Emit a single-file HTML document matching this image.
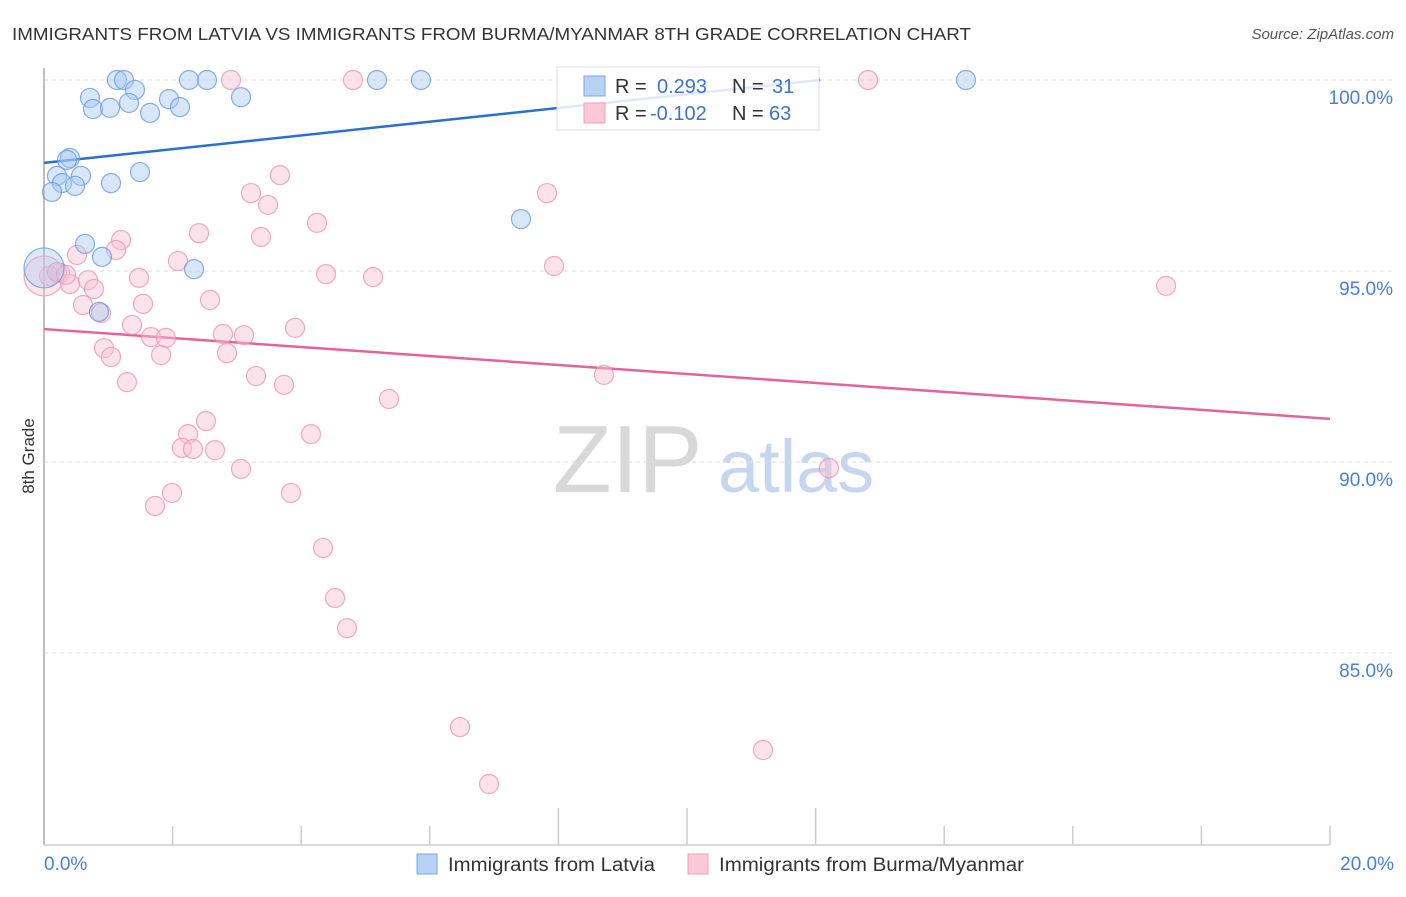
<!DOCTYPE html>
<html><head><meta charset="utf-8"><style>
body{margin:0;background:#fff;font-family:"Liberation Sans",sans-serif}
svg text{font-family:"Liberation Sans",sans-serif}
</style></head><body>
<svg id="chart" width="1406" height="892" viewBox="0 0 1406 892" xmlns="http://www.w3.org/2000/svg">
<text x="12" y="40" font-size="17.5" fill="#333" textLength="959" lengthAdjust="spacingAndGlyphs">IMMIGRANTS FROM LATVIA VS IMMIGRANTS FROM BURMA/MYANMAR 8TH GRADE CORRELATION CHART</text>
<text x="1394" y="39" font-size="15" fill="#555" font-style="italic" text-anchor="end">Source: ZipAtlas.com</text>
<text transform="translate(34,456) rotate(-90)" font-size="17" fill="#333" text-anchor="middle">8th Grade</text>
<g>
<text x="553" y="492" font-size="96" fill="#d8d8d8" font-family="Liberation Serif">ZIP</text>
<text x="718" y="492" font-size="74" fill="#c5d6ee">atlas</text>
</g>
<g id="grid"></g>
<g id="axes"></g>
<g id="lines"></g>
<g id="pts"></g>
<g>
<rect x="557" y="67" width="262" height="63" fill="#fff" fill-opacity="0.85" stroke="#ddd"/>
<rect x="584" y="76" width="21" height="20" fill="#b8d2f5" stroke="#7aa6e3"/>
<rect x="584" y="103" width="21" height="20" fill="#fcc7d6" stroke="#eda0b7"/>
<text x="615" y="93" font-size="20" fill="#333">R =</text>
<text x="657" y="93" font-size="20" fill="#3b73cf">0.293</text>
<text x="732" y="93" font-size="20" fill="#333">N =</text>
<text x="772" y="93" font-size="20" fill="#3b73cf">31</text>
<text x="615" y="120" font-size="20" fill="#333">R =</text>
<text x="650" y="120" font-size="20" fill="#3b73cf">-0.102</text>
<text x="732" y="120" font-size="20" fill="#333">N =</text>
<text x="769" y="120" font-size="20" fill="#3b73cf">63</text>
</g>
<g>
<rect x="417" y="854" width="20" height="20" fill="#b8d2f5" stroke="#7aa6e3"/>
<text x="448" y="871" font-size="19" fill="#333" textLength="207" lengthAdjust="spacingAndGlyphs">Immigrants from Latvia</text>
<rect x="688" y="854" width="20" height="20" fill="#fcc7d6" stroke="#eda0b7"/>
<text x="719" y="871" font-size="19" fill="#333" textLength="305" lengthAdjust="spacingAndGlyphs">Immigrants from Burma/Myanmar</text>
</g>
</svg>
<script>
const yTicks=[100,95,90,85];
const xTickLabels=["0.0%","20.0%"];
const latviaX=[1.135,1.244,2.255,2.535,5.179,5.863,14.339,0.715,1.415,1.322,0.762,1.026,1.944,1.649,2.115,3.064,0.404,0.358,0.202,0.575,0.280,0.482,0.124,1.042,1.493,7.418,0.638,0.902,2.333,0.855,0];
const latviaY=[100,100,100,100,100,100,100,99.53,99.74,99.40,99.24,99.27,99.50,99.14,99.29,99.55,97.96,97.91,97.49,97.49,97.30,97.23,97.07,97.30,97.59,96.36,95.71,95.37,95.05,93.93,95.08];
const burmaX=[2.908,4.806,12.815,3.219,3.670,3.484,7.823,4.246,2.411,3.375,1.198,1.120,0.513,2.084,7.932,4.386,5.117,1.477,0.684,0.249,0.078,0.778,0.404,17.45,2.582,1.540,0.607,0.886,1.369,3.904,2.784,3.110,1.664,1.897,0.933,1.042,1.820,2.846,3.297,8.709,1.291,3.733,5.365,2.519,2.240,4.152,2.146,2.317,2.659,3.064,12.208,1.991,3.841,1.726,4.339,4.526,4.712,6.470,11.182,6.921,0,0.202,0.342];
const burmaY=[100,100,100,97.04,97.51,96.73,97.04,96.26,95.99,95.89,95.81,95.55,95.42,95.26,95.13,94.92,94.84,94.82,94.76,94.95,94.87,94.53,94.66,94.61,94.24,94.14,94.11,93.90,93.59,93.51,93.35,93.32,93.27,93.25,92.98,92.75,92.80,92.85,92.25,92.28,92.09,92.02,91.65,91.07,90.73,90.73,90.37,90.34,90.31,89.82,89.84,89.19,89.19,88.85,87.75,86.44,85.65,83.06,82.46,81.57,94.87,94.97,94.90];
const latviaBig=[30];
const burmaBig=[60];
const latviaTrend=[[0,97.83],[12.07,100.0]];
const burmaTrend=[[0,93.48],[20,91.13]];

const NS="http://www.w3.org/2000/svg";
const X=v=>44+v*(1286/20);
const Y=v=>80+(100-v)*38.2;
function mk(tag,attrs,parent){const e=document.createElementNS(NS,tag);for(const k in attrs)e.setAttribute(k,attrs[k]);document.getElementById(parent).appendChild(e);return e;}

yTicks.forEach(t=>{
  const g=mk('line',{x1:44,x2:1394,y1:Y(t),y2:Y(t),stroke:'#ddd','stroke-dasharray':'4,4'},'grid');
  
  
  const tx=mk('text',{x:1393,y:Y(t)+24,'font-size':19,fill:'#4a7fd4','text-anchor':'end'},'axes');
  tx.textContent=t.toFixed(1)+'%';
  
  
});
const ya=mk('line',{x1:44,x2:44,y1:68,y2:845,stroke:'#aaa','stroke-width':1.5},'axes');


const xa=mk('line',{x1:44,x2:1330,y1:845,y2:845,stroke:'#ccc','stroke-width':1.5},'axes');


for(let i=1;i<=10;i++){
  const tall=(i>=4&&i<=6);
  const t=mk('line',{x1:X(i*2),x2:X(i*2),y1:tall?808:826,y2:845,stroke:'#ccc','stroke-width':1.5},'axes');
  
  
}
[[0,'start',44],[20,'end',1394]].forEach((d,i)=>{
  const t=mk('text',{x:d[2],y:870,'font-size':19,fill:'#4a7fd4','text-anchor':d[1]},'axes');
  t.textContent=xTickLabels[i];
  
  
});

function series(xs,ys,big,fill,stroke,name){
  xs.forEach((x,i)=>{
    const r=big.includes(i)?20:9.5;
    const c=mk('circle',{cx:X(x),cy:Y(ys[i]),r:r,fill:fill,'fill-opacity':big.includes(i)?0.4:0.45,stroke:stroke,'stroke-opacity':0.8,'stroke-width':1.2},'pts');
    
    
  });
}
series(burmaX,burmaY,burmaBig,'#f9c0d2','#ec95b2','burma-point');
series(latviaX,latviaY,latviaBig,'#a9c9f0','#6b9ade','latvia-point');

const l1=mk('line',{x1:X(latviaTrend[0][0]),y1:Y(latviaTrend[0][1]),x2:X(latviaTrend[1][0]),y2:Y(latviaTrend[1][1]),stroke:'#2a6fd6','stroke-width':2.5},'lines');


const l2=mk('line',{x1:X(burmaTrend[0][0]),y1:Y(burmaTrend[0][1]),x2:X(burmaTrend[1][0]),y2:Y(burmaTrend[1][1]),stroke:'#e4649a','stroke-width':2.5},'lines');


</script>
</body></html>
